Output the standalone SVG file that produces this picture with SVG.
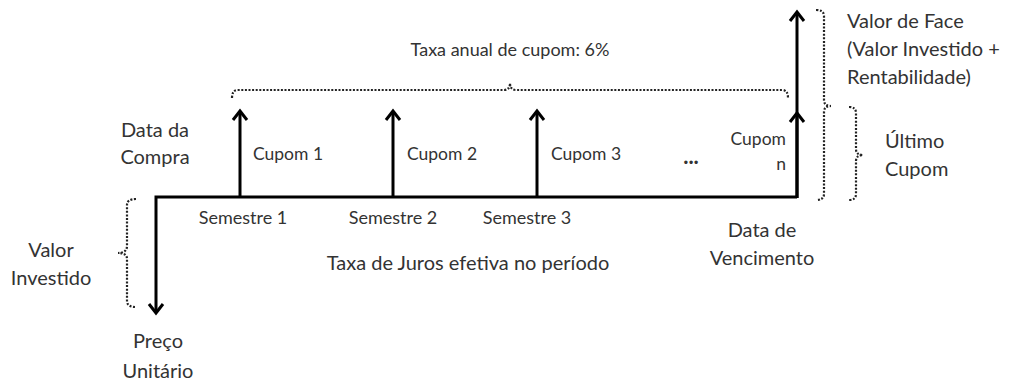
<svg xmlns="http://www.w3.org/2000/svg" width="1014" height="383" viewBox="0 0 1014 383">
<style>
text{font-family:Lato,"Open Sans","Liberation Sans",sans-serif;fill:#333;}
.l{font-size:20px;}
.c{font-size:17.5px;}
.s{font-size:18px;}
.t{font-size:18px;}
.ax{stroke:#000;stroke-width:3;fill:none;}
.dot{stroke:#222;stroke-width:2.2;fill:none;stroke-dasharray:2 1.6;}
</style>
<defs>
<marker id="ah" viewBox="-12 -10 14 20" refX="0" refY="0" markerWidth="14" markerHeight="20" markerUnits="userSpaceOnUse" orient="auto" overflow="visible">
<path d="M-9,-7 L0,0 L-9,7" fill="none" stroke="#000" stroke-width="3" stroke-linejoin="miter"/>
</marker>
</defs>
<rect width="1014" height="383" fill="#fff"/>
<g id="connectors">
<path class="ax" d="M797,197 L156,197 L156,313" marker-end="url(#ah)"/>
<line class="ax" x1="240" y1="197" x2="240" y2="111" marker-end="url(#ah)"/>
<line class="ax" x1="393" y1="197" x2="393" y2="111" marker-end="url(#ah)"/>
<line class="ax" x1="537" y1="197" x2="537" y2="111" marker-end="url(#ah)"/>
<line class="ax" x1="797" y1="198" x2="797" y2="12" marker-end="url(#ah)"/>
<line class="ax" x1="797" y1="198" x2="797" y2="113" marker-end="url(#ah)"/>
</g>
<g id="brackets">
<path class="dot" d="M232,98 Q232,90 238,90 L504,90 Q510,90 510,83 Q510,90 516,90 L782,90 Q788,90 788,98"/>
<path class="dot" d="M816,10 Q824,10 824,16 L824,100 Q824,106 831,106 Q824,106 824,112 L824,194 Q824,200 816,200"/>
<path class="dot" d="M849,107 Q856,107 856,113 L856,149 Q856,155 863,155 Q856,155 856,161 L856,194 Q856,200 849,200"/>
<path class="dot" d="M136,199 Q127,199 127,205 L127,246 Q127,253 118,253 Q127,253 127,259 L127,301 Q127,307 136,307"/>
</g>
<g id="labels">
<text class="t" x="510" y="56" text-anchor="middle">Taxa anual de cupom: 6%</text>
<text class="l" x="155" y="137" text-anchor="middle">Data da</text>
<text class="l" x="155" y="164" text-anchor="middle">Compra</text>
<text class="c" x="253" y="160">Cupom 1</text>
<text class="c" x="407" y="160">Cupom 2</text>
<text class="c" x="551" y="160">Cupom 3</text>
<text x="691" y="164" text-anchor="middle" style="font-size:22px;font-weight:bold">...</text>
<text class="c" x="786" y="145" text-anchor="end">Cupom</text>
<text class="c" x="786" y="170" text-anchor="end">n</text>
<text class="s" x="243" y="224" text-anchor="middle">Semestre 1</text>
<text class="s" x="393" y="224" text-anchor="middle">Semestre 2</text>
<text class="s" x="527" y="224" text-anchor="middle">Semestre 3</text>
<text class="l" x="762" y="237" text-anchor="middle">Data de</text>
<text class="l" x="762" y="265" text-anchor="middle">Vencimento</text>
<text class="l" x="468" y="270" text-anchor="middle">Taxa de Juros efetiva no período</text>
<text class="l" x="51" y="257" text-anchor="middle">Valor</text>
<text class="l" x="51" y="285" text-anchor="middle">Investido</text>
<text class="l" x="158" y="348" text-anchor="middle">Preço</text>
<text class="l" x="158" y="378" text-anchor="middle">Unitário</text>
<text class="l" x="847" y="28">Valor de Face</text>
<text class="l" x="847" y="56">(Valor Investido +</text>
<text class="l" x="847" y="84">Rentabilidade)</text>
<text class="l" x="885" y="148">Último</text>
<text class="l" x="885" y="176">Cupom</text>
</g>
</svg>
